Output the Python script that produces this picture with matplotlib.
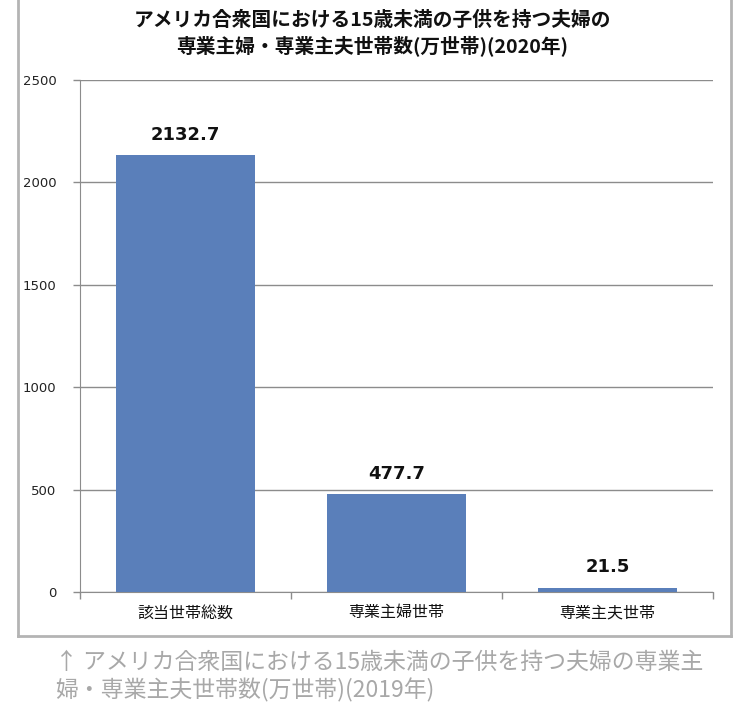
import matplotlib
matplotlib.use("Agg")
import matplotlib.pyplot as plt
from matplotlib.lines import Line2D

plt.rcParams['font.family'] = ['Noto Sans CJK JP', 'DejaVu Sans']

categories = ["該当世帯総数", "専業主婦世帯", "専業主夫世帯"]
values = [2132.7, 477.7, 21.5]
value_labels = ["2132.7", "477.7", "21.5"]
yticks = [0, 500, 1000, 1500, 2000, 2500]
title_lines = ["アメリカ合衆国における15歳未満の子供を持つ夫婦の",
               "専業主婦・専業主夫世帯数(万世帯)(2020年)"]
caption_lines = ["↑ アメリカ合衆国における15歳未満の子供を持つ夫婦の専業主",
                 "婦・専業主夫世帯数(万世帯)(2019年)"]

W, H = 750, 714
fig = plt.figure(figsize=(W / 100, H / 100), dpi=100)

def fx(px):
    return px / W

def fy(py):
    return 1 - py / H

# outer frame (top edge cut off)
frame_color = "#b4b4b4"
for (x0, y0, x1, y1) in [(18, 0, 18, 636), (731, 0, 731, 636), (18, 636, 731, 636)]:
    fig.add_artist(Line2D([fx(x0), fx(x1)], [fy(y0), fy(y1)], color=frame_color, lw=2,
                          transform=fig.transFigure))

ax = fig.add_axes([fx(80), fy(592), fx(713) - fx(80), fy(80) - fy(592)])
x = list(range(len(categories)))
bars = ax.bar(x, values, width=0.66, color="#5a7fba", zorder=3)
ax.set_xlim(-0.5, 2.5)
ax.set_ylim(0, 2500)
ax.set_yticks(yticks)
ax.set_yticklabels([str(t) for t in yticks], family="DejaVu Sans", fontsize=9.5, color="#222222")
ax.yaxis.grid(True, color="#8c8c8c", lw=1, zorder=0)
ax.set_axisbelow(True)
ax.set_xticks(x)
ax.set_xticklabels(categories, fontsize=11.5, color="#111111")
ax.tick_params(axis='x', length=0, pad=9)
ax.tick_params(axis='y', length=5, color="#8c8c8c", width=1, pad=12)
# minor ticks on x at category boundaries
ax.set_xticks([-0.5, 0.5, 1.5, 2.5], minor=True)
ax.tick_params(axis='x', which='minor', length=5, color="#8c8c8c", width=1)
for s in ["top", "right"]:
    ax.spines[s].set_visible(False)
ax.spines["left"].set_color("#8c8c8c")
ax.spines["bottom"].set_color("#8c8c8c")

for xi, v, lab in zip(x, values, value_labels):
    ax.annotate(lab, (xi, v), xytext=(0, 8), textcoords="offset points",
                ha="center", va="bottom", fontsize=13, fontweight="bold",
                family="DejaVu Sans", color="#111111")

fig.text(fx(372), fy(20), title_lines[0], ha="center", va="center",
         fontsize=14.2, fontweight="bold", color="#111111")
fig.text(fx(372), fy(47), title_lines[1], ha="center", va="center",
         fontsize=14.2, fontweight="bold", color="#111111")

fig.text(fx(55), fy(662), caption_lines[0], ha="left", va="center",
         fontsize=16.5, color="#a8a8a8")
fig.text(fx(55), fy(690), caption_lines[1], ha="left", va="center",
         fontsize=16.5, color="#a8a8a8")

fig.savefig("out.png", dpi=100)
